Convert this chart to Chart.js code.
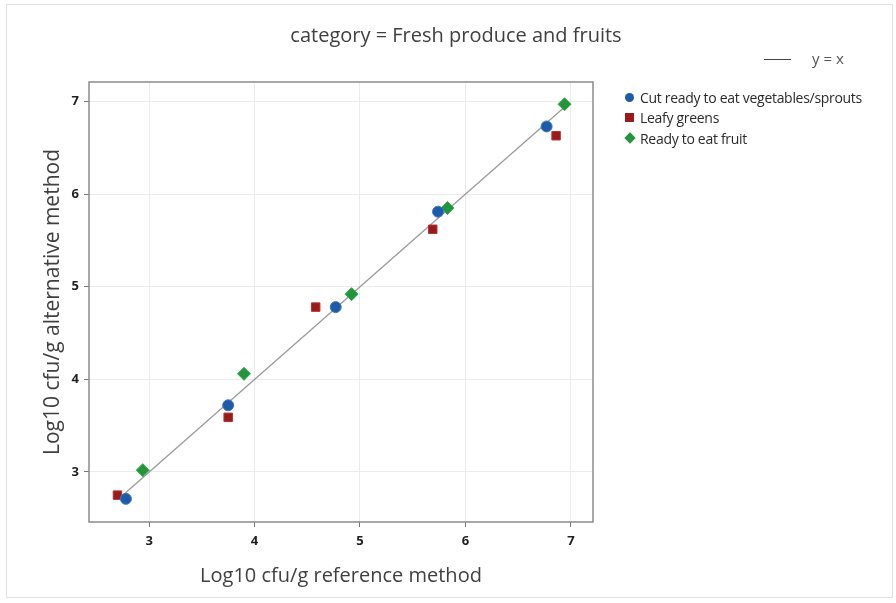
<!DOCTYPE html>
<html>
<head>
<meta charset="utf-8">
<script src="https://cdn.jsdelivr.net/npm/chart.js@4"></script>
<style>
  html, body { margin: 0; padding: 0; background: #fff; }
  #wrap { position: relative; width: 896px; height: 603px; font-family: "Open Sans", "Noto Sans", sans-serif; }
  #frame { position: absolute; left: 6px; top: 4px; width: 887px; height: 594px; border: 1px solid #e2e2e2; box-sizing: border-box; }
  #title { position: absolute; top: 21px; left: 0; width: 912px; text-align: center; font-size: 20px; color: #404040; }
  .leg { position: absolute; font-size: 14px; color: #2a2a2a; letter-spacing: -0.3px; white-space: nowrap; }
  .mk { position: absolute; width: 9px; height: 9px; }
</style>
</head>
<body>
<div id="wrap">
  <div id="frame"></div>
  <canvas id="chart" width="896" height="603"></canvas>
  <div id="title">category = Fresh produce and fruits</div>
  <div class="leg" style="left:764px; top:48px; color:#555; font-size:15px; letter-spacing:0;">
    <span style="display:inline-block; width:27px; border-top:1px solid #444; vertical-align:middle; margin-right:21px;"></span>y = x
  </div>
  <div class="mk" style="left:625px; top:93px; border-radius:50%; background:#1d5aa8;"></div>
  <div class="leg" style="left:640px; top:88px;">Cut ready to eat vegetables/sprouts</div>
  <div class="mk" style="left:625px; top:113px; background:#9b1b1b;"></div>
  <div class="leg" style="left:640px; top:108px;">Leafy greens</div>
  <div class="mk" style="left:626px; top:134px; width:8px; height:8px; transform:rotate(45deg); background:#22963a;"></div>
  <div class="leg" style="left:640px; top:129px;">Ready to eat fruit</div>
</div>
<script>
// values
const vegX = [2.78, 3.75, 4.77, 5.74, 6.77];
const vegY = [2.71, 3.72, 4.78, 5.81, 6.73];
const leafyX = [2.70, 3.75, 4.58, 5.69, 6.86];
const leafyY = [2.75, 3.59, 4.78, 5.62, 6.63];
const fruitX = [2.94, 3.90, 4.92, 5.83, 6.94];
const fruitY = [3.02, 4.06, 4.92, 5.85, 6.97];
const lineX = [2.75, 6.93];
const tickValues = [3, 4, 5, 6, 7];

function toPoints(xs, ys) {
    return xs.map((x, i) => ({ x: x, y: ys[i] }));
}

// box round the plot area
const frameBox = {
    id: 'frameBox',
    afterDraw(chart) {
        const a = chart.chartArea;
        const ctx = chart.ctx;
        ctx.save();
        ctx.strokeStyle = '#8a8a8a';
        ctx.lineWidth = 1.5;
        ctx.strokeRect(a.left, a.top, a.right - a.left, a.bottom - a.top);
        ctx.restore();
    }
};

const font = "'Open Sans', 'Noto Sans', sans-serif";

new Chart(document.getElementById('chart').getContext('2d'), {
    type: 'scatter',
    data: {
        datasets: [{
            label: 'y = x',
            type: 'line',
            data: toPoints(lineX, lineX),
            borderColor: '#9a9a9a',
            borderWidth: 1.3,
            pointRadius: 0,
            fill: false,
            order: 4
        }, {
            label: 'Cut ready to eat vegetables/sprouts',
            data: toPoints(vegX, vegY),
            pointStyle: 'circle',
            pointRadius: 5.5,
            backgroundColor: '#1d5aa8',
            borderColor: '#3f78c0',
            borderWidth: 1,
            order: 1
        }, {
            label: 'Leafy greens',
            data: toPoints(leafyX, leafyY),
            pointStyle: 'rect',
            pointRadius: 6,
            backgroundColor: '#9b1b1b',
            borderColor: '#b03434',
            borderWidth: 1,
            order: 2
        }, {
            label: 'Ready to eat fruit',
            data: toPoints(fruitX, fruitY),
            pointStyle: 'rectRot',
            pointRadius: 6.5,
            backgroundColor: '#22963a',
            borderColor: '#3aa850',
            borderWidth: 1,
            order: 3
        }]
    },
    options: {
        responsive: false,
        animation: false,
        layout: { padding: { left: 40, right: 303, top: 82, bottom: 15 } },
        plugins: {
            legend: { display: false },
            tooltip: { enabled: false }
        },
        scales: {
            x: {
                type: 'linear',
                min: 2.43,
                max: 7.21,
                afterBuildTicks(axis) { axis.ticks = tickValues.map(v => ({ value: v })); },
                afterFit(axis) { axis.height = 66; },
                border: { display: false },
                grid: { color: '#ececec', tickLength: 5, tickColor: '#777' },
                ticks: { color: '#222', font: { family: font, size: 13, weight: 'bold' }, padding: 6 },
                title: { display: true, text: 'Log10 cfu/g reference method', color: '#404040',
                         font: { family: font, size: 20 }, padding: 0 }
            },
            y: {
                type: 'linear',
                min: 2.46,
                max: 7.21,
                afterBuildTicks(axis) { axis.ticks = tickValues.map(v => ({ value: v })); },
                afterFit(axis) { axis.width = 49; },
                border: { display: false },
                grid: { color: '#ececec', tickLength: 5, tickColor: '#777' },
                ticks: { color: '#222', font: { family: font, size: 13, weight: 'bold' }, padding: 5 },
                title: { display: true, text: 'Log10 cfu/g alternative method', color: '#404040',
                         font: { family: font, size: 21 }, padding: 0 }
            }
        }
    },
    plugins: [frameBox]
});
</script>
</body>
</html>
